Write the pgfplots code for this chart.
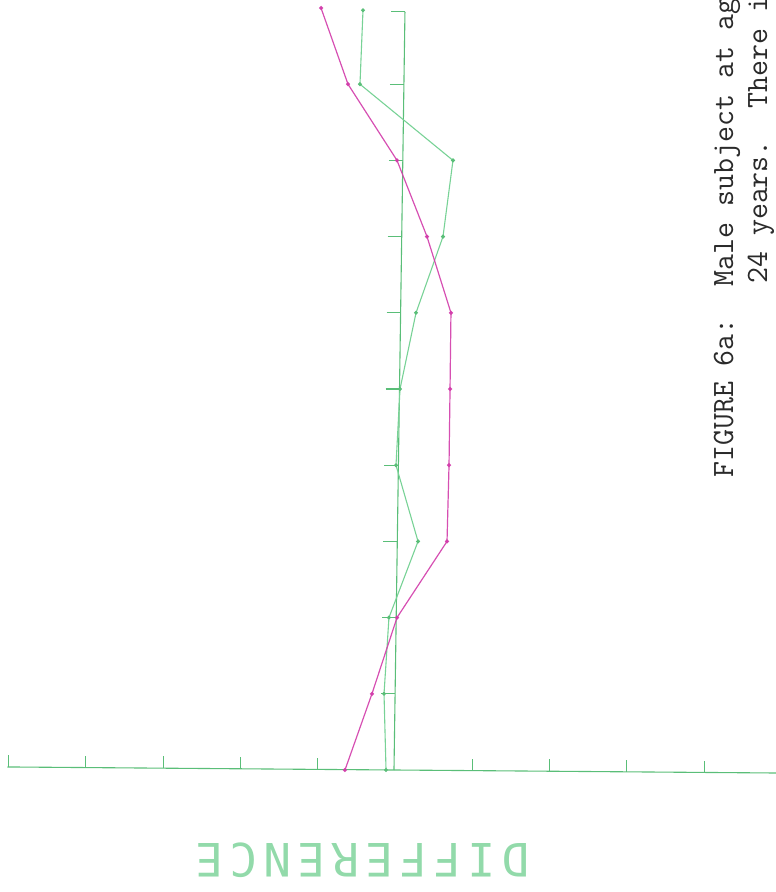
\documentclass[border=0pt]{standalone}
\usepackage{pgfplots}
\pgfplotsset{compat=1.18}
\usepackage{fontspec}
\newfontfamily\plotfont{DejaVu Sans Mono}
\definecolor{axgreen}{HTML}{5ABE78}
\definecolor{sergreen}{HTML}{78D296}
\definecolor{magser}{HTML}{D23CAA}
\definecolor{labgreen}{HTML}{92DAAA}
\definecolor{captext}{HTML}{2A2A2A}
\newcommand\pl[1]{\makebox[34pt]{#1}}
\begin{document}
\begin{tikzpicture}
\useasboundingbox (0,0) rectangle (776pt,892pt);
\clip (0,0) rectangle (776pt,892pt);
\begin{axis}[scale only axis, width=776pt, height=892pt,
  xmin=-5.110, xmax=4.929, ymin=-1.601, ymax=10.105,
  axis lines=none, clip=false]
% horizontal axis (slightly tilted as in the scan)
\draw[axgreen, line width=1.1pt] (axis cs:-5.013,0.04) -- (axis cs:5.0,-0.04);
\draw[axgreen, line width=1.1pt] (axis cs:-5,0.040) -- (axis cs:-5,0.195);
\draw[axgreen, line width=1.1pt] (axis cs:-4,0.032) -- (axis cs:-4,0.187);
\draw[axgreen, line width=1.1pt] (axis cs:-3,0.024) -- (axis cs:-3,0.179);
\draw[axgreen, line width=1.1pt] (axis cs:-2,0.016) -- (axis cs:-2,0.171);
\draw[axgreen, line width=1.1pt] (axis cs:-1,0.008) -- (axis cs:-1,0.163);
\draw[axgreen, line width=1.1pt] (axis cs:1,-0.008) -- (axis cs:1,0.147);
\draw[axgreen, line width=1.1pt] (axis cs:2,-0.016) -- (axis cs:2,0.139);
\draw[axgreen, line width=1.1pt] (axis cs:3,-0.024) -- (axis cs:3,0.131);
\draw[axgreen, line width=1.1pt] (axis cs:4,-0.032) -- (axis cs:4,0.123);
% vertical axis
\draw[axgreen, line width=1.1pt] (axis cs:-0.013,0) -- (axis cs:0.129,9.95);
\draw[axgreen, line width=1.1pt] (axis cs:-0.179,1) -- (axis cs:0.001,1);
\draw[axgreen, line width=1.1pt] (axis cs:-0.165,2) -- (axis cs:0.015,2);
\draw[axgreen, line width=1.1pt] (axis cs:-0.150,3) -- (axis cs:0.030,3);
\draw[axgreen, line width=1.1pt] (axis cs:-0.136,4) -- (axis cs:0.044,4);
\draw[axgreen, line width=1.1pt] (axis cs:-0.122,5) -- (axis cs:0.058,5);
\draw[axgreen, line width=1.1pt] (axis cs:-0.108,6) -- (axis cs:0.072,6);
\draw[axgreen, line width=1.1pt] (axis cs:-0.094,7) -- (axis cs:0.086,7);
\draw[axgreen, line width=1.1pt] (axis cs:-0.079,8) -- (axis cs:0.101,8);
\draw[axgreen, line width=1.1pt] (axis cs:-0.065,9) -- (axis cs:0.115,9);
\draw[axgreen, line width=1.1pt] (axis cs:-0.051,9.95) -- (axis cs:0.129,9.95);
% green series
\addplot[sergreen, line width=1.1pt, mark=*, mark size=1.4pt, mark options={fill=axgreen, draw=axgreen}]
  coordinates {(-0.116,0) (-0.142,1) (-0.078,2) (0.298,3) (0.013,4) (0.065,5)
               (0.272,6) (0.621,7) (0.750,8) (-0.453,9) (-0.414,9.97)};
% magenta series
\addplot[magser, opacity=0.9, line width=1.2pt, mark=*, mark size=1.4pt]
  coordinates {(-0.647,0) (-0.298,1) (0.026,2) (0.673,3) (0.699,4) (0.712,5)
               (0.724,6) (0.414,7) (0.026,8) (-0.608,9) (-0.957,10)};
\end{axis}
% axis title (upside down in the scan)
\node[rotate=180, inner sep=0, text=labgreen,
  font=\plotfont\fontsize{46}{46}\selectfont] at (362.5pt,31.5pt)
  {\pl{D}\pl{I}\pl{F}\pl{F}\pl{E}\pl{R}\pl{E}\pl{N}\pl{C}\pl{E}};
% caption (rotated page)
\node[rotate=90, anchor=base west, inner sep=0, text=captext,
  font=\ttfamily\fontsize{31}{31}\selectfont] at (733pt,414pt)
  {FIGURE~6a:~~Male~subject~at~ag};
\node[rotate=90, anchor=base west, inner sep=0, text=captext,
  font=\ttfamily\fontsize{31}{31}\selectfont] at (767pt,608pt)
  {24~years.~~There~i};
\end{tikzpicture}
\end{document}
